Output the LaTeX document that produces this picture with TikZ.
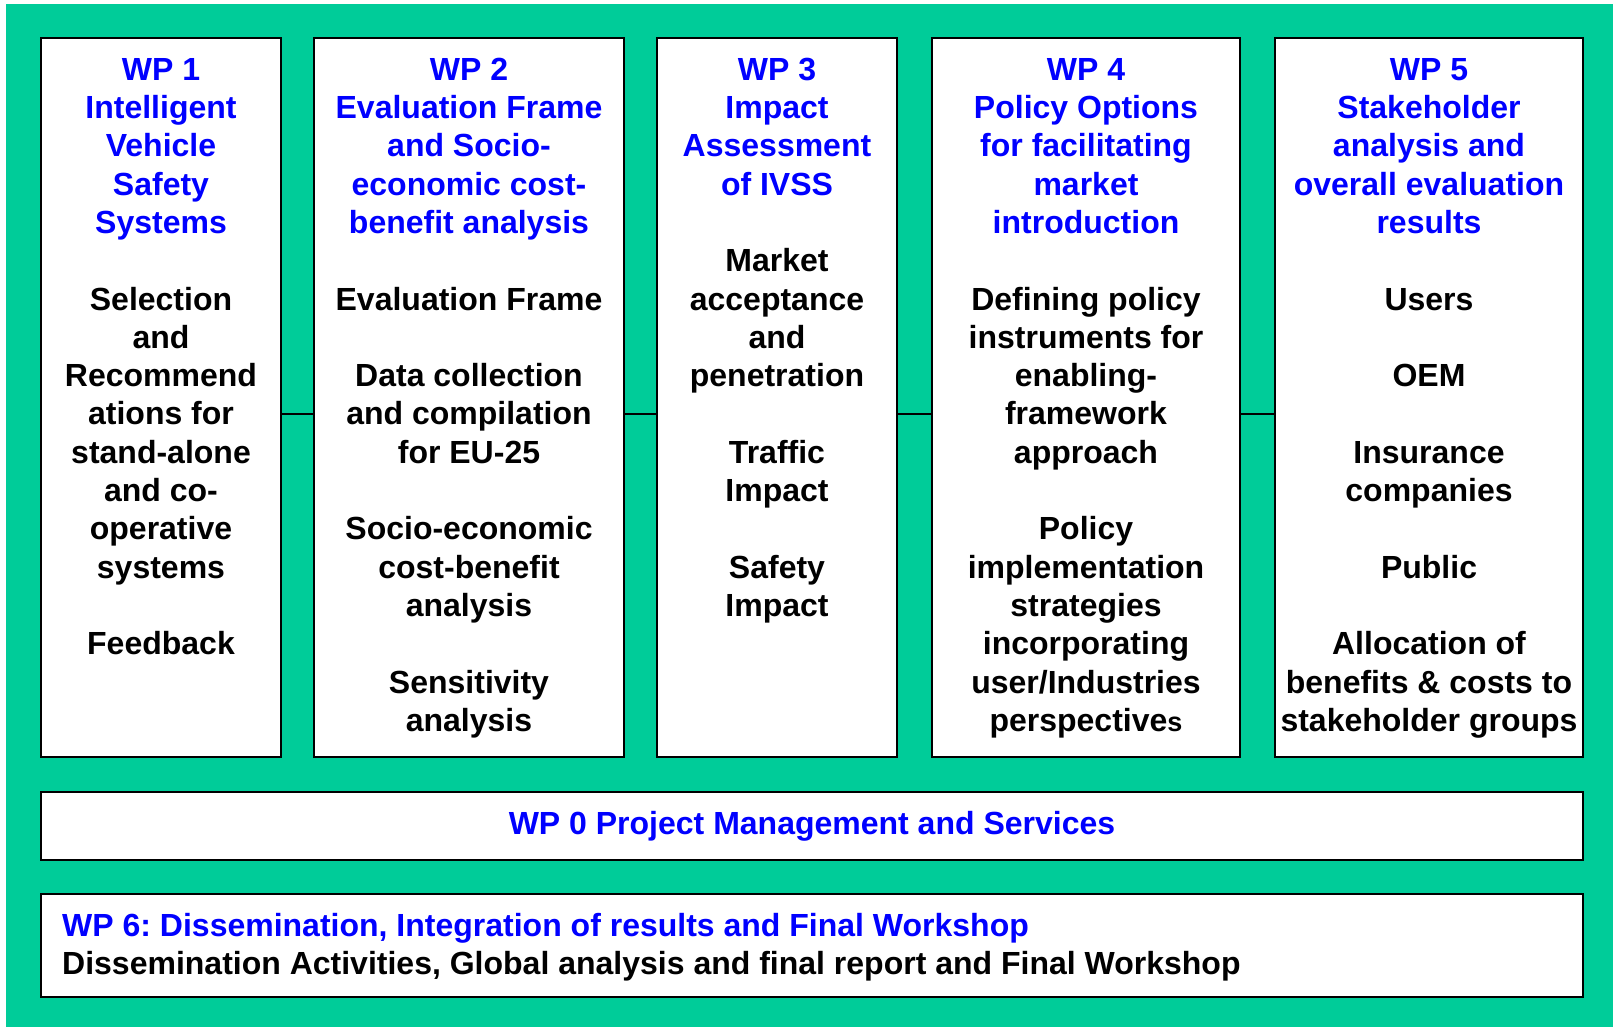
\documentclass[tikz,border=0pt]{standalone}
\usepackage{fontspec}
\setmainfont{Liberation Sans}
\frenchspacing
\definecolor{bggreen}{HTML}{00CC99}
\definecolor{wpblue}{HTML}{0000FF}
\begin{document}
\begin{tikzpicture}[x=1pt,y=-1pt,
  wpbox/.style={draw=black, line width=2pt, fill=white, inner sep=0pt, outer sep=0pt, anchor=north west},
  coltext/.style={anchor=north, inner sep=0pt, align=center, font=\fontsize{32}{38.3}\selectfont\bfseries},
  link/.style={draw=black, line width=2pt}
]
\useasboundingbox (0,0) rectangle (1613,1027);
\fill[white] (0,0) rectangle (1613,1027);
\fill[bggreen] (6,4) rectangle (1613,1027);

% column boxes
\node[wpbox, minimum width=240, minimum height=719] (wp1) at (41,38) {};
\node[wpbox, minimum width=310, minimum height=719] (wp2) at (314,38) {};
\node[wpbox, minimum width=240, minimum height=719] (wp3) at (657,38) {};
\node[wpbox, minimum width=308, minimum height=719] (wp4) at (932,38) {};
\node[wpbox, minimum width=308, minimum height=719] (wp5) at (1275,38) {};

% connectors
\draw[link] (wp1.east |- 0,414) -- (wp2.west |- 0,414);
\draw[link] (wp2.east |- 0,414) -- (wp3.west |- 0,414);
\draw[link] (wp3.east |- 0,414) -- (wp4.west |- 0,414);
\draw[link] (wp4.east |- 0,414) -- (wp5.west |- 0,414);

% column texts
\node[coltext] (t1) at (161,53.2) {\strut\textcolor{wpblue}{WP 1}\\\textcolor{wpblue}{Intelligent}\\\textcolor{wpblue}{Vehicle}\\\textcolor{wpblue}{Safety}\\\textcolor{wpblue}{Systems}\\[38.3pt]
Selection\\and\\Recommend\\ations for\\stand-alone\\and co-\\operative\\systems\\[38.3pt]Feedback};

\node[coltext] (t2) at (469,53.2) {\strut\textcolor{wpblue}{WP 2}\\\textcolor{wpblue}{Evaluation Frame}\\\textcolor{wpblue}{and Socio-}\\\textcolor{wpblue}{economic cost-}\\\textcolor{wpblue}{benefit analysis}\\[38.3pt]
Evaluation Frame\\[38.3pt]Data collection\\and compilation\\for EU-25\\[38.3pt]Socio-economic\\cost-benefit\\analysis\\[38.3pt]Sensitivity\\analysis};

\node[coltext] (t3) at (777,53.2) {\strut\textcolor{wpblue}{WP 3}\\\textcolor{wpblue}{Impact}\\\textcolor{wpblue}{Assessment}\\\textcolor{wpblue}{of IVSS}\\[38.3pt]
Market\\acceptance\\and\\penetration\\[38.3pt]Traffic\\Impact\\[38.3pt]Safety\\Impact};

\node[coltext] (t4) at (1086,53.2) {\strut\textcolor{wpblue}{WP 4}\\\textcolor{wpblue}{Policy Options}\\\textcolor{wpblue}{for facilitating}\\\textcolor{wpblue}{market}\\\textcolor{wpblue}{introduction}\\[38.3pt]
Defining policy\\instruments for\\enabling-\\framework\\approach\\[38.3pt]Policy\\implementation\\strategies\\incorporating\\user/Industries\\perspective{\fontsize{27}{38.3}\selectfont s}};

\node[coltext] (t5) at (1429,53.2) {\strut\textcolor{wpblue}{WP 5}\\\textcolor{wpblue}{Stakeholder}\\\textcolor{wpblue}{analysis and}\\\textcolor{wpblue}{overall evaluation}\\\textcolor{wpblue}{results}\\[38.3pt]
Users\\[38.3pt]OEM\\[38.3pt]Insurance\\companies\\[38.3pt]Public\\[38.3pt]Allocation of\\benefits \& costs to\\stakeholder groups};

% WP0 and WP6
\node[wpbox, minimum width=1542, minimum height=68] (wp0) at (41,792) {};
\node[anchor=base, inner sep=0pt, text=wpblue, font=\fontsize{32}{38.3}\selectfont\bfseries] (t0) at (812,834.5) {WP 0 Project Management and Services};

\node[wpbox, minimum width=1542, minimum height=103] (wp6) at (41,894) {};
\node[anchor=north west, inner sep=0pt, align=left, font=\fontsize{32}{37.3}\selectfont\bfseries] (t6) at (62,910.6) {\strut\textcolor{wpblue}{WP 6: Dissemination, Integration of results and Final Workshop}\\Dissemination Activities, Global analysis and final report and Final Workshop};
\end{tikzpicture}
\end{document}
